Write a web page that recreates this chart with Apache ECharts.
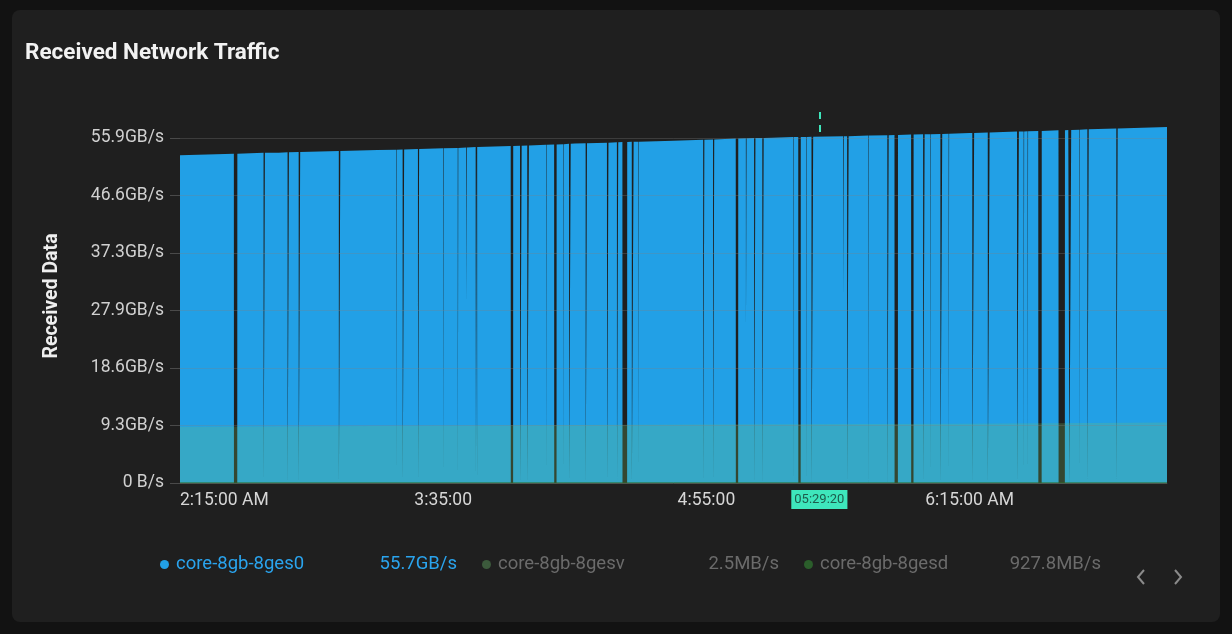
<!DOCTYPE html>
<html>
<head>
<meta charset="utf-8">
<script src="https://cdn.jsdelivr.net/npm/echarts@6/dist/echarts.min.js"></script>
<style>
  html, body { margin: 0; padding: 0; background: #121212; width: 1232px; height: 634px; overflow: hidden; }
  #card { position: absolute; left: 12px; top: 10px; width: 1208px; height: 612px; background: #1f1f1f; border-radius: 8px; }
  #chart { position: absolute; left: 0; top: 0; width: 1232px; height: 634px; }
</style>
</head>
<body>
<div id="card"></div>
<div id="chart"></div>
<script>
// ---- data (minutes after 2:15:00 AM, values in GB/s) ----
const seriesNames = ['core-8gb-8ges0', 'core-8gb-8gesv', 'core-8gb-8gesd'];
const legendValues = ['55.7GB/s', '2.5MB/s', '927.8MB/s'];

// top envelope of core-8gb-8ges0: [minute, GB/s]
const ges0Envelope = [
  [0, 53.1], [30, 53.5], [60, 53.95], [90, 54.45], [120, 55.0], [150, 55.45],
  [180, 55.95], [210, 56.3], [240, 56.7], [270, 57.2], [300, 57.7]
];
// drops of core-8gb-8ges0: [minute, width (min), floor GB/s, level around it GB/s]
const ges0Drops = [
  [16.9, 1.0, 0, 53.35], [25.6, 0.35, 0, 53.5], [32.9, 0.35, 0, 53.6], [36.3, 0.4, 0, 53.65],
  [48.5, 0.4, 0, 53.8], [65.8, 0.08, 0, 54.0], [67.9, 0.4, 0, 54.05], [72.5, 0.3, 0, 54.1],
  [80.1, 0.1, 0, 54.25], [84.5, 0.1, 0, 54.3], [87.1, 0.15, 29.2, 54.35], [90.1, 0.4, 0, 54.45],
  [100.9, 0.7, 0, 54.6], [103.6, 0.45, 0, 54.65], [105.8, 0.45, 0, 54.7], [111.4, 0.08, 0, 54.8],
  [114.1, 0.7, 0, 54.85], [116.6, 0.08, 0, 54.9], [118.5, 0.45, 0, 54.95], [123.5, 0.35, 0, 55.05],
  [130.0, 0.4, 0, 55.15], [133.0, 0.35, 0, 55.2], [135.2, 1.4, 0, 55.25], [137.6, 0.5, 0, 55.3],
  [139.4, 0.08, 0, 55.3], [159.2, 0.3, 0, 55.6], [162.2, 0.3, 0, 55.65], [169.3, 0.7, 0, 55.8],
  [172.1, 0.15, 25.3, 55.85], [174.7, 0.35, 0, 55.9], [177.2, 0.35, 0, 55.9], [186.5, 0.08, 0, 56.05],
  [188.3, 0.7, 0, 56.05], [190.5, 0.08, 0, 56.05], [192.2, 0.45, 0, 56.1], [201.7, 0.15, 30.5, 56.2],
  [203.0, 0.4, 0, 56.2], [209.3, 0.08, 0, 56.3], [215.2, 0.35, 0, 56.35], [217.7, 1.0, 0, 56.4],
  [222.6, 0.7, 0, 56.45], [226.1, 0.4, 0, 56.5], [228.2, 0.08, 0, 56.5], [231.4, 0.5, 0, 56.55],
  [233.7, 0.08, 0, 56.6], [241.1, 0.5, 0, 56.72], [245.8, 0.5, 0, 56.8], [254.7, 0.5, 0, 56.95],
  [256.5, 0.08, 0, 56.97], [257.7, 0.08, 0, 57.0], [261.4, 1.0, 0, 57.05], [268.0, 1.9, 0, 57.17],
  [270.6, 0.5, 0, 57.2], [273.4, 0.08, 0, 57.25], [276.0, 0.35, 0, 57.3], [284.8, 0.35, 0, 57.45]
];
// core-8gb-8gesd band top: [minute, GB/s]
const gesdBand = [[0, 9.1], [60, 9.25], [120, 9.38], [180, 9.52], [240, 9.62], [300, 9.8]];
// core-8gb-8gesv: [minute, GB/s]
const gesvValues = [[0, 0.0025], [300, 0.0025]];

const xTickValues = [0, 80, 160, 240];
const xTickLabels = ['2:15:00 AM', '3:35:00', '4:55:00', '6:15:00 AM'];
const yTickValues = [0, 9.3167, 18.6333, 27.95, 37.2667, 46.5833, 55.9];
const yTickLabels = ['0 B/s', '9.3GB/s', '18.6GB/s', '27.9GB/s', '37.3GB/s', '46.6GB/s', '55.9GB/s'];
const pointerMinute = 194.333;
const pointerLabel = '05:29:20';

// ---- build ges0 line points from envelope and drops ----
const ges0Points = ges0Envelope.slice();
ges0Drops.forEach(function (d) {
  const m = d[0], w = d[1], floor = d[2], lvl = d[3];
  ges0Points.push([m - w / 2 - 0.03, lvl], [m - w / 2, floor], [m + w / 2, floor], [m + w / 2 + 0.03, lvl]);
});
ges0Points.sort(function (a, b) { return a[0] - b[0]; });

const FONT = 'Roboto';
const chart = echarts.init(document.getElementById('chart'), null, { renderer: 'canvas' });
chart.setOption({
  animation: false,
  backgroundColor: 'transparent',
  textStyle: { fontFamily: FONT },
  title: {
    text: 'Received Network Traffic', left: 20, top: 37,
    textStyle: { color: '#f2f2f2', fontSize: 22.5, fontWeight: 'bold', fontFamily: FONT }
  },
  grid: { left: 180, right: 65, top: 109, bottom: 151, containLabel: false },
  legend: {
    left: 155, top: 550, itemWidth: 9, itemHeight: 9, itemGap: 25, icon: 'circle',
    selectedMode: false,
    data: [
      { name: seriesNames[0], itemStyle: { color: '#22a0e6' }, textStyle: { color: '#2aa4ee' } },
      { name: seriesNames[1], itemStyle: { color: '#3c5a3c' }, textStyle: { color: '#6b6b6b' } },
      { name: seriesNames[2], itemStyle: { color: '#2b5e2b' }, textStyle: { color: '#6b6b6b' } }
    ],
    formatter: function (name) {
      return '{n|' + name + '}{v|' + legendValues[seriesNames.indexOf(name)] + '}';
    },
    textStyle: {
      fontFamily: FONT, fontSize: 18.5,
      rich: {
        n: { width: 184, align: 'left', fontSize: 18.5, fontFamily: FONT, padding: [0, 0, 0, 2] },
        v: { width: 97, align: 'right', fontSize: 18.5, fontFamily: FONT }
      }
    }
  },
  xAxis: {
    type: 'value', min: 0, max: 300, interval: 80,
    axisLine: { show: true, lineStyle: { color: '#3a3a3a', width: 1 } },
    axisTick: { show: false },
    splitLine: { show: false },
    axisLabel: {
      color: '#d6d6d6', fontSize: 17.5, fontFamily: FONT, margin: 9,
      showMaxLabel: false, alignMinLabel: 'left',
      formatter: function (v) { const i = xTickValues.indexOf(v); return i >= 0 ? xTickLabels[i] : ''; }
    },
    axisPointer: {
      show: true, type: 'line', value: pointerMinute, status: 'show', snap: false, z: 1,
      triggerTooltip: false,
      lineStyle: { color: '#3ee6bc', width: 2, type: [7, 6] },
      label: {
        show: true, formatter: function () { return pointerLabel; },
        backgroundColor: '#3ee6bc', color: '#1d5c4c', fontSize: 13, fontFamily: FONT,
        padding: [3, 3, 3, 3], margin: 7, borderRadius: 0
      }
    }
  },
  yAxis: {
    type: 'value', min: 0, max: 60.6, z: 3,
    name: 'Received Data', nameLocation: 'middle', nameRotate: 90, nameGap: 118,
    nameTextStyle: { color: '#eeeeee', fontSize: 19.5, fontWeight: 'bold', fontFamily: FONT },
    axisLine: { show: false },
    axisTick: { show: true, length: 10, customValues: yTickValues, lineStyle: { color: '#4a4a4a' } },
    splitLine: { show: true, lineStyle: { color: 'rgba(128,128,128,0.3)', width: 1 } },
    axisLabel: {
      color: '#d0d0d0', fontSize: 17.5, fontFamily: FONT, margin: 16,
      customValues: yTickValues,
      formatter: function (v) {
        let best = 0;
        yTickValues.forEach(function (t, i) { if (Math.abs(t - v) < Math.abs(yTickValues[best] - v)) best = i; });
        return yTickLabels[best];
      }
    }
  },
  series: [
    {
      name: seriesNames[0], type: 'line', data: ges0Points, showSymbol: false, sampling: null,
      color: '#22a0e6', z: 2,
      lineStyle: { width: 0 },
      areaStyle: { color: '#22a0e6', opacity: 1 }
    },
    {
      name: seriesNames[1], type: 'line', data: gesvValues, showSymbol: false,
      color: '#2f6b2a', z: 2,
      lineStyle: { width: 1, color: '#2f6b2a' }
    },
    {
      name: seriesNames[2], type: 'line', data: gesdBand, showSymbol: false,
      color: '#73bf69', z: 2,
      lineStyle: { width: 0 },
      areaStyle: { color: 'rgba(115,191,105,0.25)', opacity: 1 }
    }
  ],
  graphic: [
    { type: 'polyline', shape: { points: [[1144, 570], [1138, 577], [1144, 584]] }, style: { stroke: '#8a8a8a', lineWidth: 2, fill: null } },
    { type: 'polyline', shape: { points: [[1175, 570], [1181, 577], [1175, 584]] }, style: { stroke: '#8a8a8a', lineWidth: 2, fill: null } }
  ]
});
</script>
</body>
</html>
